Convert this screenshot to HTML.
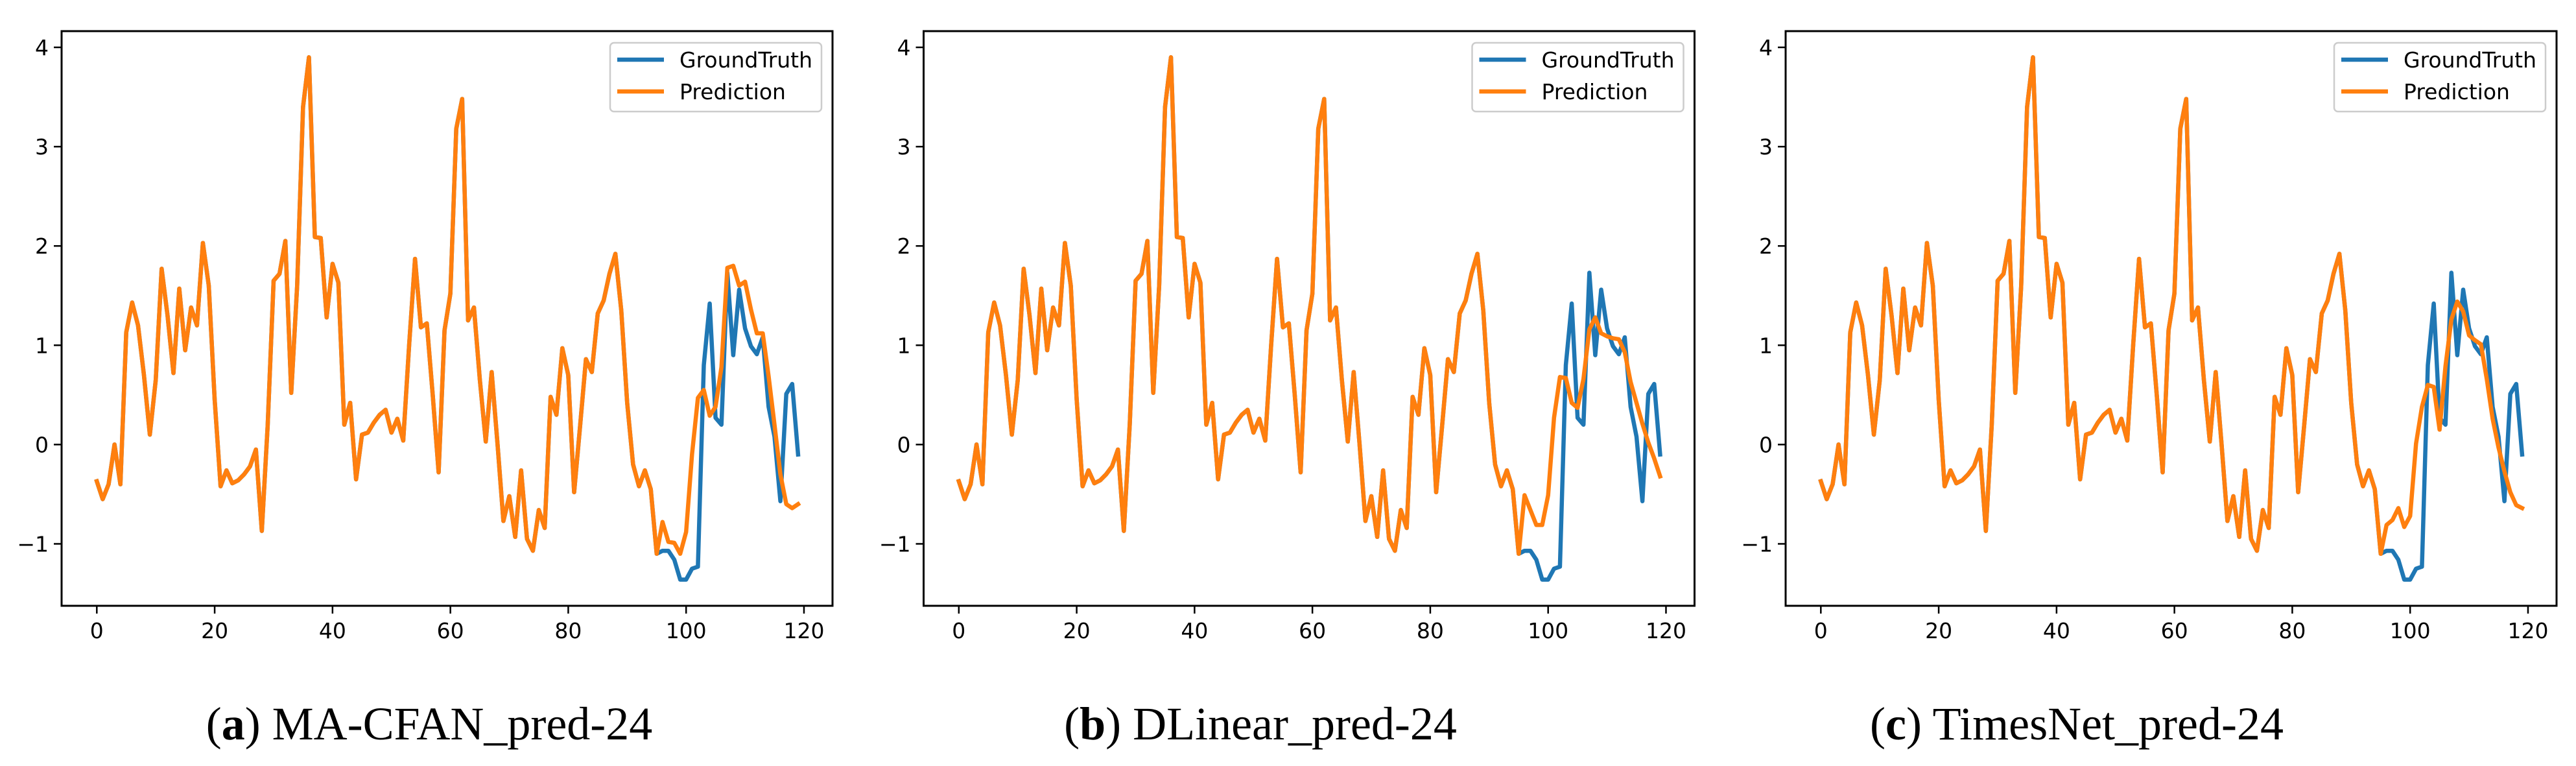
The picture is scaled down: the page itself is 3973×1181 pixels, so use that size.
<!DOCTYPE html>
<html><head><meta charset="utf-8"><style>
html,body{margin:0;padding:0;background:#fff}
svg{display:block}
</style></head><body>
<svg id="fig" width="3973" height="1181" viewBox="0 0 3973 1181" xmlns="http://www.w3.org/2000/svg"></svg>
<script>
// shared history values (index 0..95)
const history = [-0.37,-0.55,-0.4,0.0,-0.4,1.13,1.43,1.2,0.7,0.1,0.65,1.77,1.3,0.72,1.57,0.95,1.38,1.2,2.03,1.6,0.45,-0.42,-0.26,-0.39,-0.36,-0.3,-0.22,-0.05,-0.87,0.2,1.65,1.72,2.05,0.52,1.6,3.4,3.9,2.09,2.08,1.28,1.82,1.63,0.2,0.42,-0.35,0.1,0.12,0.22,0.3,0.35,0.12,0.26,0.04,1.0,1.87,1.18,1.22,0.5,-0.28,1.15,1.52,3.18,3.48,1.25,1.38,0.65,0.03,0.73,0.0,-0.77,-0.52,-0.93,-0.26,-0.95,-1.07,-0.66,-0.84,0.48,0.3,0.97,0.7,-0.48,0.18,0.86,0.73,1.32,1.45,1.72,1.92,1.35,0.42,-0.2,-0.42,-0.26,-0.45,-1.1];
// ground truth future (index 96..119)
const gtFuture = [-1.07,-1.07,-1.16,-1.36,-1.36,-1.25,-1.23,0.8,1.42,0.27,0.2,1.73,0.9,1.56,1.17,0.99,0.91,1.08,0.38,0.08,-0.57,0.51,0.61,-0.1];
// predictions (index 96..119)
const predA = [-0.78,-0.98,-0.99,-1.1,-0.88,-0.1,0.47,0.55,0.29,0.38,0.78,1.78,1.8,1.6,1.64,1.36,1.12,1.12,0.69,0.2,-0.3,-0.6,-0.64,-0.6];
const predB = [-0.51,-0.66,-0.81,-0.81,-0.51,0.27,0.68,0.67,0.42,0.37,0.66,1.16,1.28,1.12,1.09,1.07,1.06,0.93,0.63,0.42,0.21,0.02,-0.14,-0.32];
const predC = [-0.81,-0.76,-0.64,-0.83,-0.72,0.01,0.38,0.6,0.58,0.15,0.79,1.26,1.44,1.34,1.1,1.05,1.01,0.66,0.26,-0.03,-0.27,-0.48,-0.61,-0.64];
const xTicks = [0,20,40,60,80,100,120];
const yTicks = [-1,0,1,2,3,4];
const yTickLabels = ["\u22121","0","1","2","3","4"];
const captionLetters = ["a","b","c"];
const captionTexts = ["MA-CFAN_pred-24","DLinear_pred-24","TimesNet_pred-24"];

const NS = "http://www.w3.org/2000/svg";
const svg = document.getElementById('fig');
function mk(tag, attrs, parent){
  const e = document.createElementNS(NS, tag);
  for (const k in attrs) e.setAttribute(k, attrs[k]);
  (parent||svg).appendChild(e);
  return e;
}
const preds = [predA, predB, predC];
const panelNames = ["panel-a","panel-b","panel-c"];
const capX = [662, 1944, 3203];
for (let p = 0; p < 3; p++) {
  const off = p * 1329.5;
  const L = 95 + off, R = 1284 + off, T = 48, B = 934;
  const xs = v => 149.3 + off + v * 9.089;
  const ys = v => 685.4 - v * 153.1;
  const g = mk('g', {});
  
  
  xTicks.forEach(t => {
    const l = mk('line', {x1: xs(t), x2: xs(t), y1: B, y2: B + 12, stroke: '#000', 'stroke-width': 2.5}, g);
    
    
    const tx = mk('text', {x: xs(t), y: B + 50, 'text-anchor': 'middle', 'font-family': 'DejaVu Sans, sans-serif', 'font-size': 33}, g);
    tx.textContent = String(t);
    
    
  });
  yTicks.forEach((t, i) => {
    const l = mk('line', {x1: L - 12, x2: L, y1: ys(t), y2: ys(t), stroke: '#000', 'stroke-width': 2.5}, g);
    
    
    const tx = mk('text', {x: L - 20, y: ys(t) + 12, 'text-anchor': 'end', 'font-family': 'DejaVu Sans, sans-serif', 'font-size': 33}, g);
    tx.textContent = yTickLabels[i];
    
    
  });
  const gtVals = history.concat(gtFuture);
  const prVals = history.concat(preds[p]);
  const pts = arr => arr.map((v, i) => xs(i).toFixed(1) + ',' + ys(v).toFixed(1)).join(' ');
  const gl = mk('polyline', {points: pts(gtVals), fill: 'none', stroke: '#1f77b4', 'stroke-width': 6.5, 'stroke-linejoin': 'round', 'stroke-linecap': 'square'}, g);
  
  
  const pl = mk('polyline', {points: pts(prVals), fill: 'none', stroke: '#ff7f0e', 'stroke-width': 6.5, 'stroke-linejoin': 'round', 'stroke-linecap': 'square'}, g);
  
  
  const fr = mk('rect', {x: L, y: T, width: R - L, height: B - T, fill: 'none', stroke: '#000', 'stroke-width': 3}, g);
  
  
  const lg = mk('g', {}, g);
  
  
  mk('rect', {x: 941 + off, y: 66, width: 326, height: 106, rx: 6, fill: '#fff', 'fill-opacity': 0.8, stroke: '#ccc', 'stroke-width': 2.5}, lg);
  const entries = [['GroundTruth', '#1f77b4', 92], ['Prediction', '#ff7f0e', 141]];
  entries.forEach(en => {
    const e = mk('g', {}, lg);
    
    
    mk('line', {x1: 952 + off, x2: 1024 + off, y1: en[2], y2: en[2], stroke: en[1], 'stroke-width': 6.5}, e);
    const t = mk('text', {x: 1048 + off, y: en[2] + 12, 'font-family': 'DejaVu Sans, sans-serif', 'font-size': 33}, e);
    t.textContent = en[0];
  });
  const cap = mk('text', {x: capX[p], y: 1140, 'text-anchor': 'middle', 'font-family': 'Liberation Serif, serif', 'font-size': 72}, g);
  
  
  const t1 = mk('tspan', {}, cap); t1.textContent = '(';
  const t2 = mk('tspan', {'font-weight': 'bold'}, cap); t2.textContent = captionLetters[p];
  const t3 = mk('tspan', {}, cap); t3.textContent = ') ' + captionTexts[p];
}
</script>
</body></html>
